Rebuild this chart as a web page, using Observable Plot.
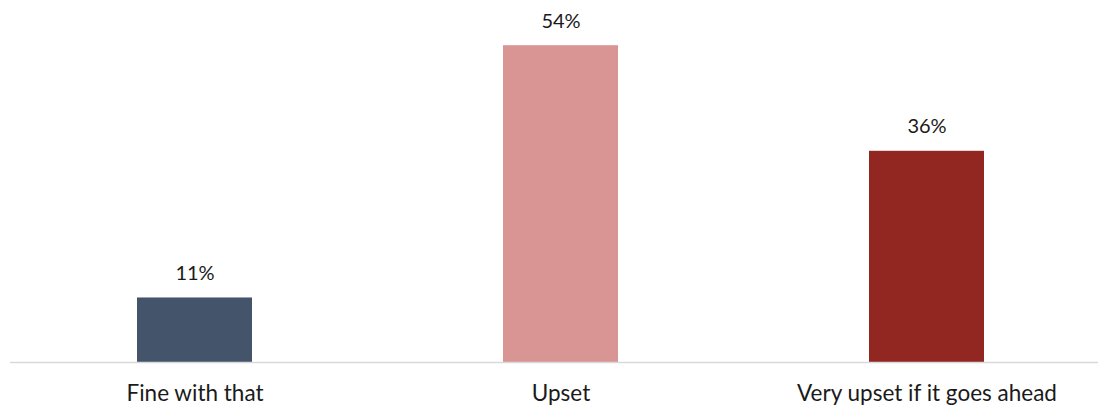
<!DOCTYPE html>
<html>
<head>
<meta charset="utf-8">
<script src="https://cdn.jsdelivr.net/npm/d3@7"></script>
<script src="https://cdn.jsdelivr.net/npm/@observablehq/plot@0.6"></script>
<style>
  html, body { margin: 0; padding: 0; background: #fff; }
  #chart svg { display: block; }
</style>
</head>
<body>
<div id="chart"></div>
<script>
const categories = ["Fine with that", "Upset", "Very upset if it goes ahead"];
const values = [11, 54, 36];
const colors = ["#44546A", "#D99594", "#922722"];

const data = categories.map((c, i) => ({category: c, value: values[i], color: colors[i]}));

const chart = Plot.plot({
  width: 1098,
  height: 407,
  marginTop: 10,
  marginBottom: 45,
  marginLeft: 10,
  marginRight: 0,
  style: {fontFamily: "Lato, 'Open Sans', sans-serif", fontSize: "20px", color: "#1a1a1a", background: "#fff"},
  x: {domain: categories, range: [10.6, 1110.7], paddingInner: 0.685, paddingOuter: 0.3425, label: null},
  y: {domain: [0, 60], axis: null},
  marks: [
    Plot.barY(data, {x: "category", y: "value", fill: "color"}),
    Plot.ruleY([0], {stroke: "#D9D9D9", strokeWidth: 1.5}),
    Plot.text(data, {x: "category", y: "value", text: d => d.value + "%", dy: -18, lineAnchor: "bottom", fill: "#1a1a1a", fontSize: 20}),
    Plot.axisX({tickSize: 0, tickPadding: 23, label: null, fontSize: 22.5, fill: "#1a1a1a"})
  ]
});
document.getElementById("chart").appendChild(chart);
</script>
</body>
</html>
